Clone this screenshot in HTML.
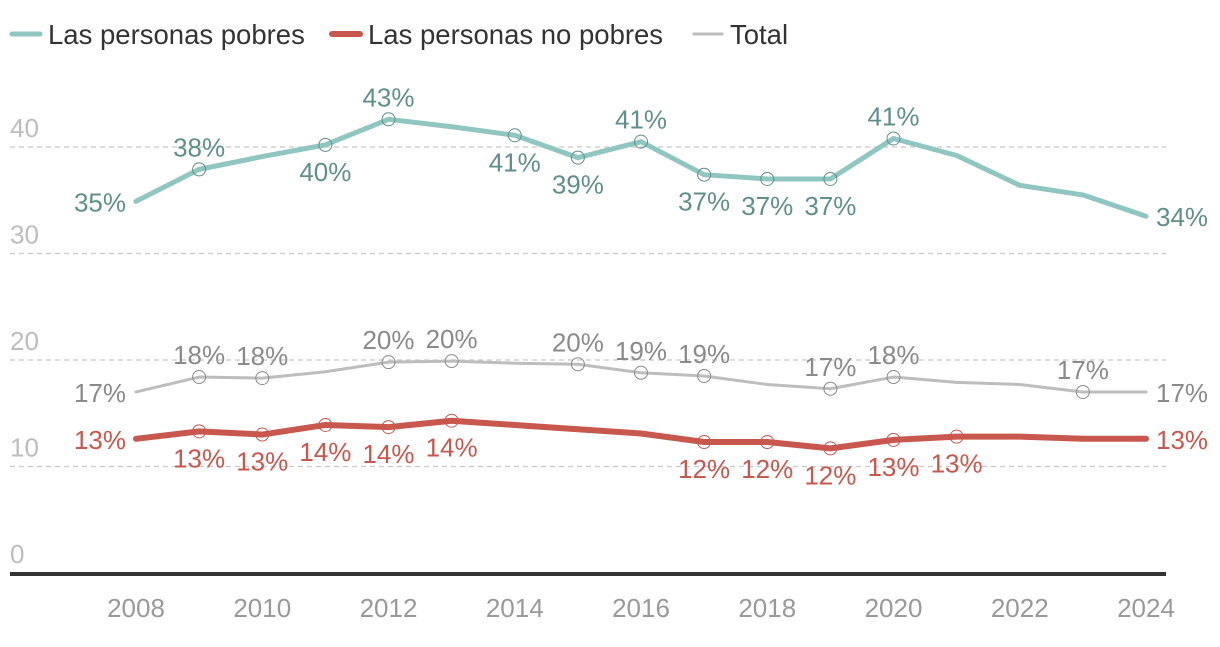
<!DOCTYPE html>
<html><head><meta charset="utf-8">
<style>
body{margin:0;background:#fff;font-family:"Liberation Sans",sans-serif;}
svg text{font-family:"Liberation Sans",sans-serif;}
</style></head>
<body>
<svg id="chart" width="1220" height="642" xmlns="http://www.w3.org/2000/svg"></svg>
<script>
const years=[2008,2009,2010,2011,2012,2013,2014,2015,2016,2017,2018,2019,2020,2021,2022,2023,2024];
const pobres=[34.9,37.9,39.1,40.2,42.6,41.9,41.1,39.0,40.5,37.4,37.0,37.0,40.8,39.2,36.4,35.5,33.5];
const total=[17.0,18.4,18.3,18.9,19.8,19.9,19.7,19.6,18.8,18.5,17.7,17.3,18.4,17.9,17.7,17.0,17.0];
const noPobres=[12.6,13.3,13.0,13.9,13.7,14.3,13.9,13.5,13.1,12.3,12.3,11.7,12.5,12.8,12.8,12.6,12.6];
const pobresLabels=["35%","38%","","40%","43%","","41%","39%","41%","37%","37%","37%","41%","","","","34%"];
const totalLabels=["17%","18%","18%","","20%","20%","","20%","19%","19%","","17%","18%","","","17%","17%"];
const noPobresLabels=["13%","13%","13%","14%","14%","14%","","","","12%","12%","12%","13%","13%","","","13%"];
const pobresPos=["L","A","","B","A","","B","B","A","B","B","B","A","","","","R"];
const totalPos=["L","A","A","","A","A","","A","A","A","","A","A","","","A","R"];
const noPobresPos=["L","B","B","B","B","B","","","","B","B","B","B","B","","","R"];
const yTicks=[0,10,20,30,40];
const xTicks=[2008,2010,2012,2014,2016,2018,2020,2022,2024];

const svg=document.getElementById('chart');
const NS='http://www.w3.org/2000/svg';
const X=y=>136+(y-2008)*(1146-136)/16;
const Y=v=>573-v*10.65;
function mk(tag,attrs,parent){const e=document.createElementNS(NS,tag);for(const k in attrs)e.setAttribute(k,attrs[k]);(parent||svg).appendChild(e);return e;}

yTicks.forEach(t=>{
  if(t>0){const l=mk('line',{x1:10,x2:1166,y1:Y(t),y2:Y(t),stroke:'#c8c8c8','stroke-width':1.3,'stroke-dasharray':'5,4'});
  
  }
  const tx=mk('text',{x:10,y:Y(t)-10,fill:'#bdbdbd','font-size':26});
  tx.textContent=t;
  
  
});
const ax=mk('line',{x1:10,x2:1166,y1:574,y2:574,stroke:'#333','stroke-width':4});


xTicks.forEach(t=>{
  const tx=mk('text',{x:X(t),y:617,fill:'#999','font-size':26,'text-anchor':'middle'});
  tx.textContent=t;
  
  
});

function series(vals,labels,pos,color,tcolor,w,name){
  const pts=vals.map((v,i)=>X(years[i])+','+Y(v)).join(' ');
  const p=mk('polyline',{points:pts,fill:'none',stroke:color,'stroke-width':w,'stroke-linejoin':'round','stroke-linecap':'round'});
  
  
  vals.forEach((v,i)=>{
    const lab=labels[i];if(!lab)return;
    const x=X(years[i]),y=Y(v),ps=pos[i];
    if(ps==='A'||ps==='B'){
      const c=mk('circle',{cx:x,cy:y,r:6.5,fill:'none',stroke:tcolor,'stroke-width':1});
      
      
    }
    let tx,ty,anc='middle';
    if(ps==='L'){tx=x-10;ty=y+10;anc='end';}
    else if(ps==='R'){tx=x+10;ty=y+10;anc='start';}
    else if(ps==='A'){tx=x;ty=y-13;}
    else {tx=x;ty=y+36;}
    const t=mk('text',{x:tx,y:ty,fill:tcolor,'font-size':26,'text-anchor':anc});
    t.textContent=lab;
    
    
  });
}
series(total,totalLabels,totalPos,'#bdbdbd','#8a8a8a',3,'total');
series(noPobres,noPobresLabels,noPobresPos,'#c8574d','#c8574d',6,'no-pobres');
series(pobres,pobresLabels,pobresPos,'#8fc6c2','#5f8f8b',5,'pobres');

const leg=[["Las personas pobres",'#8fc6c2',5,12],["Las personas no pobres",'#c8574d',6,332],["Total",'#bdbdbd',3,694]];
leg.forEach((l,i)=>{
  const g=mk('g',{});
  
  
  mk('line',{x1:l[3],x2:l[3]+28,y1:34,y2:34,stroke:l[1],'stroke-width':l[2],'stroke-linecap':'round'},g);
  const t=mk('text',{x:l[3]+36,y:44,fill:'#333','font-size':27.5},g);
  t.textContent=l[0];
});
</script>
</body></html>
